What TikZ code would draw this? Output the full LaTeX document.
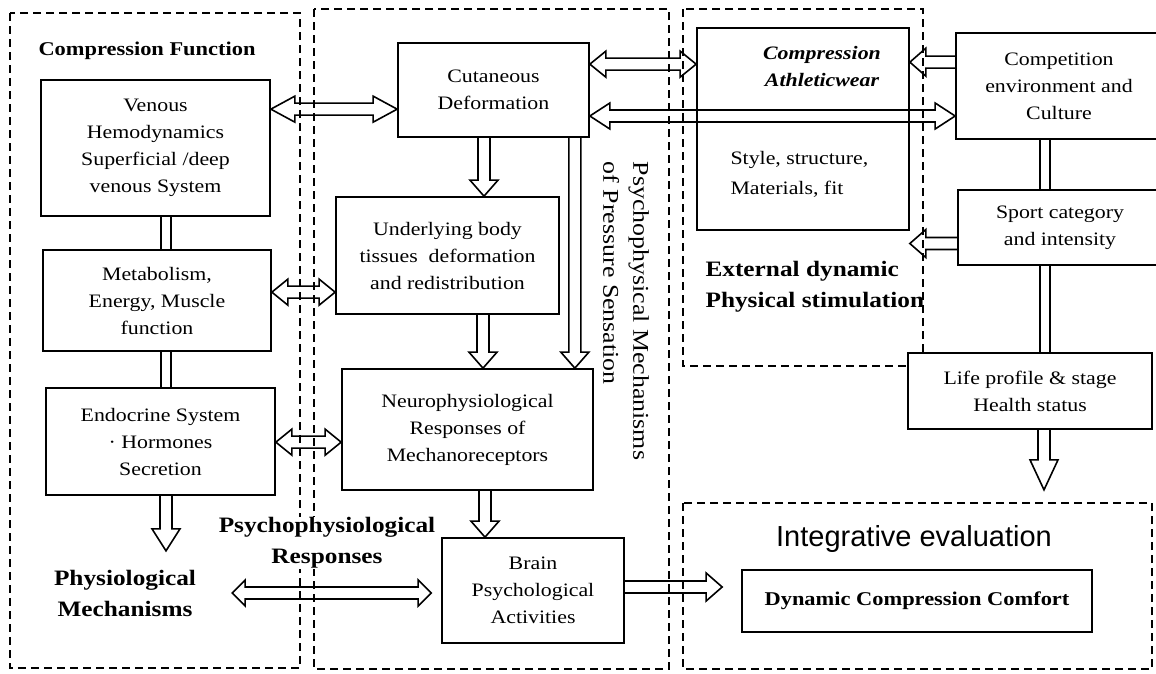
\documentclass[tikz,border=0pt]{standalone}
\usepackage{fontspec}
\setmainfont{Liberation Serif}[FakeStretch=1.15]
\newfontfamily\evalfont{Liberation Sans}
\usetikzlibrary{calc}

\newcommand{\boxfont}{\fontsize{19}{27}\selectfont}
\newcommand{\headfont}{\fontsize{22}{31}\selectfont\bfseries}

% hollow block arrow, head at #3
\newcommand{\blockarrow}[3][16pt]{%
  \coordinate (ba-h) at ($(#3)!#1!(#2)$);
  \draw[arrowline] ($(#2)!6pt!90:(#3)$) -- ($(ba-h)!6pt!90:(#3)$) -- ($(ba-h)!14pt!90:(#3)$) -- (#3)
     -- ($(ba-h)!14pt!-90:(#3)$) -- ($(ba-h)!6pt!-90:(#3)$) -- ($(#2)!6pt!-90:(#3)$);}
% hollow block arrow, heads at both ends
\newcommand{\dblockarrow}[3][16pt]{%
  \coordinate (ba-a) at ($(#2)!#1!(#3)$);
  \coordinate (ba-b) at ($(#3)!#1!(#2)$);
  \draw[arrowline] (#2) -- ($(ba-a)!13pt!90:(ba-b)$) -- ($(ba-a)!6pt!90:(ba-b)$)
     -- ($(ba-b)!6pt!-90:(ba-a)$) -- ($(ba-b)!13pt!-90:(ba-a)$) -- (#3)
     -- ($(ba-b)!13pt!90:(ba-a)$) -- ($(ba-b)!6pt!90:(ba-a)$)
     -- ($(ba-a)!6pt!-90:(ba-b)$) -- ($(ba-a)!13pt!-90:(ba-b)$) -- cycle;}
% two parallel lines, no heads
\newcommand{\twinline}[2]{%
  \draw[arrowline] ($(#1)!5pt!90:(#2)$) -- ($(#2)!5pt!-90:(#1)$)
                   ($(#1)!5pt!-90:(#2)$) -- ($(#2)!5pt!90:(#1)$);}

\begin{document}
\begin{tikzpicture}[x=1pt, y=-1pt,
    box/.style={draw, fill=white, line width=1.7pt, align=center, inner sep=2pt, font=\boxfont},
    zone/.style={line width=1.5pt, dash pattern=on 8pt off 5pt},
    arrowline/.style={line width=1.6pt, line join=miter}]

    \useasboundingbox (0,0) rectangle (1156,673);
    \clip (0,0) rectangle (1156,673);

    % Dashed zones
    \draw[zone] (10,13) rectangle (300,668);
    \draw[zone] (314,9) rectangle (669,669);
    \draw[zone] (683,9) rectangle (923,366);
    \draw[zone] (683,503) rectangle (1152,669);

    % First column
    \node[font=\fontsize{19.5}{27}\selectfont\bfseries, anchor=base west] (cfun) at (35,55) {Compression Function};
    \node[box, minimum width=229pt, minimum height=136pt] (ven) at (155.5,148) {Venous\\Hemodynamics\\Superficial /deep\\venous System};
    \node[box, minimum width=228pt, minimum height=101pt] (met) at (157,300.5) {Metabolism,\\Energy, Muscle\\function};
    \node[box, minimum width=229pt, minimum height=107pt] (endo) at (160.5,441.5) {Endocrine System\\· Hormones\\Secretion};
    \node[font=\headfont, align=center] (phys) at (125,593) {Physiological\\Mechanisms};

    % Second column
    \node[box, minimum width=191pt, minimum height=94pt] (cut) at (493.5,90) {Cutaneous\\Deformation};
    \node[box, minimum width=223pt, minimum height=117pt] (under) at (447.5,255.5) {Underlying body\\tissues\ \ deformation\\and redistribution};
    \node[box, minimum width=251pt, minimum height=121pt] (neuro) at (467.5,429.5) {Neurophysiological\\Responses of\\Mechanoreceptors};
    \node[box, minimum width=182pt, minimum height=105pt] (brain) at (533,590.5) {Brain\\Psychological\\Activities};
    \node[font=\headfont, align=center, fill=white, inner sep=1pt] (psyresp) at (327,543) {Psychophysiological\\Responses};
    \node[font=\fontsize{22.5}{30}\selectfont, rotate=-90, align=left] (psymech) at (626,311) {Psychophysical Mechanisms\\of Pressure Sensation};

    % Third column
    \node[box, minimum width=212pt, minimum height=202pt] (comp) at (803,129) {};
    \node[font=\boxfont\bfseries\itshape, align=center] (compname) at (822,67) {Compression\\Athleticwear};
    \node[font=\fontsize{19}{30}\selectfont, align=left, anchor=west] (compdesc) at (727,174) {Style, structure,\\Materials, fit};
    \node[font=\headfont, align=left, anchor=west] (extstim) at (702,287) {External dynamic\\Physical stimulation};

    % Fourth column
    \node[box, minimum width=206pt, minimum height=106pt] (compet) at (1059,86) {Competition\\environment and\\Culture};
    \node[box, minimum width=204pt, minimum height=75pt] (sport) at (1060,227.5) {Sport category\\and intensity};
    \node[box, minimum width=244pt, minimum height=76pt] (life) at (1030,391) {Life profile \& stage\\Health status};

    % Evaluation
    \node[font=\fontsize{29}{34}\selectfont\evalfont] (inteval) at (914,539) {Integrative evaluation};
    \node[box, minimum width=350pt, minimum height=62pt, font=\fontsize{19.5}{27}\selectfont\bfseries] (dcc) at (917,601) {Dynamic Compression Comfort};

    % Connectors, first column
    \coordinate (vm1) at ([xshift=10.5pt]ven.south);
    \coordinate (vm2) at (met.north -| vm1);
    \twinline{vm1}{vm2}
    \coordinate (me1) at ([xshift=9pt]met.south);
    \coordinate (me2) at (endo.north -| me1);
    \twinline{me1}{me2}
    \coordinate (ed1) at ([xshift=5.5pt]endo.south);
    \coordinate (ed2) at ([yshift=-55pt]ed1);
    \blockarrow[22pt]{ed1}{ed2}

    \coordinate (venr) at ([yshift=-30pt]ven.north east);
    \coordinate (cutl) at (cut.west |- venr);
    \dblockarrow[24pt]{venr}{cutl}
    \coordinate (metr) at ([yshift=-43pt]met.north east);
    \coordinate (underl) at (under.west |- metr);
    \dblockarrow{metr}{underl}
    \coordinate (endor) at ([yshift=-55pt]endo.north east);
    \coordinate (neurol) at (neuro.west |- endor);
    \dblockarrow{endor}{neurol}

    % Connectors, second column
    \coordinate (cu1) at ([xshift=-9.5pt]cut.south);
    \coordinate (cu2) at (under.north -| cu1);
    \blockarrow{cu1}{cu2}
    \coordinate (cn1) at ([xshift=-15pt]cut.south east);
    \coordinate (cn2) at (neuro.north -| cn1);
    \blockarrow{cn1}{cn2}
    \coordinate (un1) at ([xshift=35.5pt]under.south);
    \coordinate (un2) at (neuro.north -| un1);
    \blockarrow{un1}{un2}
    \coordinate (nb1) at ([xshift=17.5pt]neuro.south);
    \coordinate (nb2) at (brain.north -| nb1);
    \blockarrow{nb1}{nb2}

    \coordinate (brainl) at ([xshift=-10pt, yshift=-2.5pt]brain.west);
    \coordinate (physr) at ([xshift=-199pt]brainl);
    \dblockarrow[13pt]{physr}{brainl}
    \coordinate (brainr) at ([yshift=3.5pt]brain.east);
    \coordinate (dccl) at ([xshift=-19pt]dcc.west);
    \coordinate (dcctip) at (brainr -| dccl);
    \blockarrow{brainr}{dcctip}

    % Connectors, right side
    \coordinate (cutr) at ([yshift=-22pt]cut.north east);
    \coordinate (compl) at (comp.west |- cutr);
    \dblockarrow{cutr}{compl}
    \coordinate (cutr2) at ([yshift=-26pt]cut.east);
    \coordinate (competl) at (compet.west |- cutr2);
    \dblockarrow[20pt]{cutr2}{competl}
    \coordinate (competl2) at ([yshift=-30pt]compet.north west);
    \coordinate (compr) at (comp.east |- competl2);
    \blockarrow{competl2}{compr}
    \coordinate (sportl) at ([yshift=-16pt]sport.west);
    \coordinate (sporttip) at (comp.east |- sportl);
    \blockarrow{sportl}{sporttip}

    \coordinate (cs1) at ([xshift=-14pt]compet.south);
    \coordinate (cs2) at (sport.north -| cs1);
    \twinline{cs1}{cs2}
    \coordinate (sl1) at ([xshift=-15pt]sport.south);
    \coordinate (sl2) at (life.north -| sl1);
    \twinline{sl1}{sl2}
    \coordinate (ld1) at ([xshift=14pt]life.south);
    \coordinate (ld2) at ([yshift=-60pt]ld1);
    \blockarrow[30pt]{ld1}{ld2}

\end{tikzpicture}
\end{document}
